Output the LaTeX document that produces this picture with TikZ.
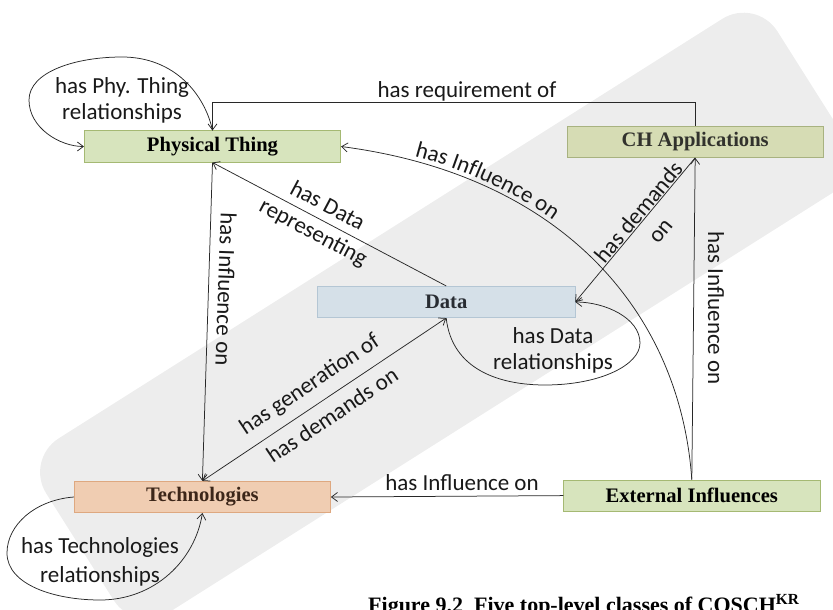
\documentclass[tikz,border=0pt]{standalone}
\usepackage{fontspec}
\setmainfont{Liberation Serif}
\newfontfamily\lblfont{Carlito}
\usetikzlibrary{arrows.meta,decorations.text}
\definecolor{bandc}{RGB}{237,237,237}
\definecolor{ptfill}{RGB}{215,228,189}
\definecolor{ptdraw}{RGB}{165,185,115}
\definecolor{chfill}{RGB}{214,220,180}
\definecolor{chdraw}{RGB}{168,178,128}
\definecolor{dafill}{RGB}{213,224,232}
\definecolor{dadraw}{RGB}{180,198,212}
\definecolor{tefill}{RGB}{240,205,178}
\definecolor{tedraw}{RGB}{222,168,128}
\definecolor{linec}{RGB}{40,40,40}
\definecolor{lblc}{RGB}{25,25,25}
\newcommand\labelsz[1]{\lblfont\fontsize{23}{#1}\selectfont}
\begin{document}
\begin{tikzpicture}[x=1pt,y=-1pt,
  box/.style={inner sep=0pt, line width=0.6pt, minimum height=31.5pt, font=\fontsize{20.6}{24}\selectfont\bfseries},
  lbl/.style={inner sep=0pt, align=center, text=lblc, font=\labelsz{27}},
  conn/.style={draw=linec, line width=0.75pt},
  arr/.style={conn, -{Straight Barb[length=6pt,width=9pt]}},
  darr/.style={conn, {Straight Barb[length=6pt,width=9pt]}-{Straight Barb[length=6pt,width=9pt]}}]

\useasboundingbox (0,0) rectangle (833,610);
\clip (0,0) rectangle (833,610);
\node[fill=bandc, rotate=32.3, minimum width=865pt, minimum height=206pt, rounded corners=40pt, inner sep=0pt] (band) at (445.5,315.7) {};

% classes
\node[box, fill=ptfill, draw=ptdraw, minimum width=256.5pt, text=black] (PT) at (212.5,146.5) {Physical Thing};
\node[box, fill=chfill, draw=chdraw, minimum width=255.5pt, text={rgb,255:red,50;green,50;blue,45}] (CH) at (695.2,141.7) {CH Applications};
\node[box, fill=dafill, draw=dadraw, minimum width=257.5pt, text={rgb,255:red,40;green,44;blue,50}] (Data) at (446.2,302) {Data};
\node[box, fill=tefill, draw=tedraw, minimum width=256.4pt, text={rgb,255:red,60;green,38;blue,25}] (Tech) at (202.4,497) {Technologies};
\node[box, fill=ptfill, draw=ptdraw, minimum width=256.5pt, text=black] (Ext) at (691.8,495.6) {External Influences};

% connectors
\draw[arr] (PT.north) .. controls (205,95) and (175,57) .. (122,57)
  .. controls (75,57) and (29,72) .. (29,100)
  .. controls (29,128) and (60,146.5) .. (PT.west);
\draw[arr] (CH.north) -- ++(0,-23) -| (PT.north);
\draw[arr] (Ext.north) .. controls (680,310) and (560,175) .. (PT.east);
\draw[arr] (Ext.north) -- (CH.south);
\draw[arr] (PT.south) -- (Tech.north);
\draw[arr] (Data.north) -- (PT.south);
\draw[arr] (CH.south) -- (Data.east);
\draw[darr] (Tech.north) -- (Data.south);
\draw[arr] (Data.south) .. controls (452,370) and (500,385) .. (545,385)
  .. controls (600,385) and (640,365) .. (640,343)
  .. controls (640,318) and (605,302) .. (Data.east);
\draw[arr] (Tech.west) .. controls (35,500) and (7,525) .. (7,553)
  .. controls (7,585) and (55,600) .. (100,600)
  .. controls (155,600) and (195,560) .. (Tech.south);
\draw[arr] (Ext.west) -- (Tech.east);

% labels
\node[lbl, font=\labelsz{26}] (l1) at (122,100) {has Phy. Thing\\relationships};
\node[lbl] (l2) at (467,91) {has requirement of};
\path[decorate, decoration={text along path, text align=center,
  text={|\labelsz{27}\color{lblc}|has Influence on}}]
  (386,149.6) .. controls (458.9,164.1) and (522.5,193.6) .. (576.6,238.2);
\node[lbl, rotate=-90] (l4) at (716,308) {has Influence on};
\node[lbl, rotate=-92] (l5) at (226,289) {has Influence on};
\node[lbl, rotate=-28, font=\labelsz{30}] (l6) at (320,220) {has Data\\representing};
\node[lbl, rotate=50, font=\labelsz{28}] (l7) at (649,221) {has demands\\on};
\node[lbl, rotate=33.7] (l8a) at (310,385) {has generation of};
\node[lbl, rotate=33.7] (l8b) at (332,415) {has demands on};
\node[lbl, font=\labelsz{26}] (l9) at (553,350) {has Data\\relationships};
\node[lbl, font=\labelsz{29}] (l10) at (100,562) {has Technologies\\relationships};
\node[lbl] (l11) at (462,483) {has Influence on};

% caption
\node[anchor=base west, inner sep=0pt, font=\fontsize{22}{26}\selectfont\bfseries] (cap) at (368,612) {Figure 9.2\enspace Five top-level classes of COSCH\textsuperscript{KR}};
\end{tikzpicture}
\end{document}
